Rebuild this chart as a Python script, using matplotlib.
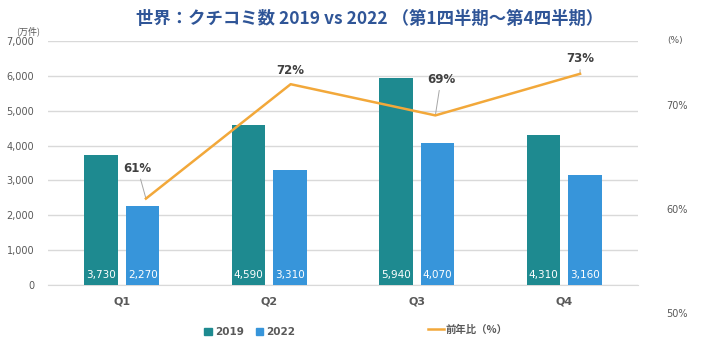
import matplotlib
matplotlib.use("Agg")
import matplotlib.pyplot as plt
import numpy as np
from matplotlib.patches import Patch
from matplotlib.lines import Line2D

plt.rcParams['font.family'] = ['DejaVu Sans', 'Noto Sans CJK JP']

# data
quarters = ['Q1', 'Q2', 'Q3', 'Q4']
reviews_2019 = [3730, 4590, 5940, 4310]
reviews_2022 = [2270, 3310, 4070, 3160]
yoy_ratio = [61, 72, 69, 73]

c2019 = '#1e8a90'
c2022 = '#3795da'
cline = '#f2a83a'
grid_c = '#d9d9d9'
txt_c = '#595959'

W, H = 712, 350
fig = plt.figure(figsize=(W / 100, H / 100), dpi=100)

def box(x0, y0, x1, y1):
    # pixel box (top-left origin) -> figure fraction
    return [x0 / W, 1 - y1 / H, (x1 - x0) / W, (y1 - y0) / H]

ax = fig.add_axes(box(48, 41, 638, 285))
x = np.arange(len(quarters))
bw = 0.227
b1 = ax.bar(x - 0.142, reviews_2019, bw, color=c2019, zorder=3)
b2 = ax.bar(x + 0.142, reviews_2022, bw, color=c2022, zorder=3)
for bars, vals in ((b1, reviews_2019), (b2, reviews_2022)):
    for r, v in zip(bars, vals):
        ax.text(r.get_x() + r.get_width() / 2, 130, f'{v:,}', ha='center', va='bottom',
                color='white', fontsize=7.5, zorder=4)

ax.set_xlim(-0.5, 3.5)
ax.set_ylim(0, 7000)
ax.set_yticks(range(0, 7001, 1000))
ax.set_yticklabels([f'{v:,}' for v in range(0, 7001, 1000)])
ax.set_xticks(x)
ax.set_xticklabels(quarters, fontweight='bold')
ax.grid(axis='y', color=grid_c, linewidth=1, zorder=0)
for s in ('top', 'right', 'left'):
    ax.spines[s].set_visible(False)
ax.spines['bottom'].set_color(grid_c)
ax.tick_params(axis='y', length=0, labelsize=7, labelcolor=txt_c, pad=10)
ax.tick_params(axis='x', length=0, labelsize=8, labelcolor=txt_c, pad=8)

# line on its own axes (secondary scale)
ax2 = fig.add_axes(box(73.6, 41, 652.4, 313))
ax2.patch.set_alpha(0)
ax2.plot(x, yoy_ratio, color=cline, linewidth=1.8, zorder=5)
ax2.set_xlim(-0.5, 3.5)
ax2.set_ylim(50, 50 + (313 - 41) / 10.4)
ax2.set_xticks([])
ax2.yaxis.tick_right()
ax2.set_yticks([50, 60, 70])
ax2.set_yticklabels(['50%', '60%', '70%'])
ax2.tick_params(axis='y', length=0, labelsize=7, labelcolor=txt_c, pad=10)
for s in ax2.spines.values():
    s.set_visible(False)

offsets = [(-6, 17), (0, 5), (4, 21), (0, 6)]
for xi, v, off in zip(x, yoy_ratio, offsets):
    arrow = dict(arrowstyle='-', color='#a6a6a6', lw=0.7, shrinkA=1, shrinkB=0) if off != (0, 5) else None
    ax2.annotate(f'{v}%', xy=(xi, v), xytext=off, textcoords='offset points',
                 ha='center', va='bottom', fontsize=8.5, fontweight='bold', color='#404040',
                 arrowprops=arrow)

fig.text(370 / W, 1 - 19 / H, '世界：クチコミ数 2019 vs 2022 （第1四半期～第4四半期）',
         ha='center', va='center', fontsize=12.5, fontweight='bold', color='#2f5597',
         family=['Noto Sans CJK JP', 'DejaVu Sans'])
fig.text(28 / W, 1 - 31 / H, '(万件)', ha='center', va='center', fontsize=6.5, color=txt_c,
         family=['Noto Sans CJK JP', 'DejaVu Sans'])
fig.text(675 / W, 1 - 40 / H, '(%)', ha='center', va='center', fontsize=6.5, color=txt_c)

h_bars = [Patch(color=c2019, label='2019'), Patch(color=c2022, label='2022')]
leg1 = fig.legend(handles=h_bars, loc='center', bbox_to_anchor=(250 / W, 1 - 332 / H), ncol=2,
                  frameon=False, handlelength=0.7, handleheight=0.7, handletextpad=0.3,
                  columnspacing=1.2, prop={'size': 7.5, 'weight': 'bold'})
for t in leg1.get_texts():
    t.set_color(txt_c)
h_line = [Line2D([0], [0], color=cline, lw=1.8, label='前年比（%）')]
leg2 = fig.legend(handles=h_line, loc='center', bbox_to_anchor=(468 / W, 1 - 330 / H),
                  frameon=False, handlelength=1.5, handletextpad=0.2,
                  prop={'size': 7.5, 'weight': 'bold', 'family': ['Noto Sans CJK JP', 'DejaVu Sans']})
for t in leg2.get_texts():
    t.set_color(txt_c)

fig.savefig('out.png', dpi=100)
